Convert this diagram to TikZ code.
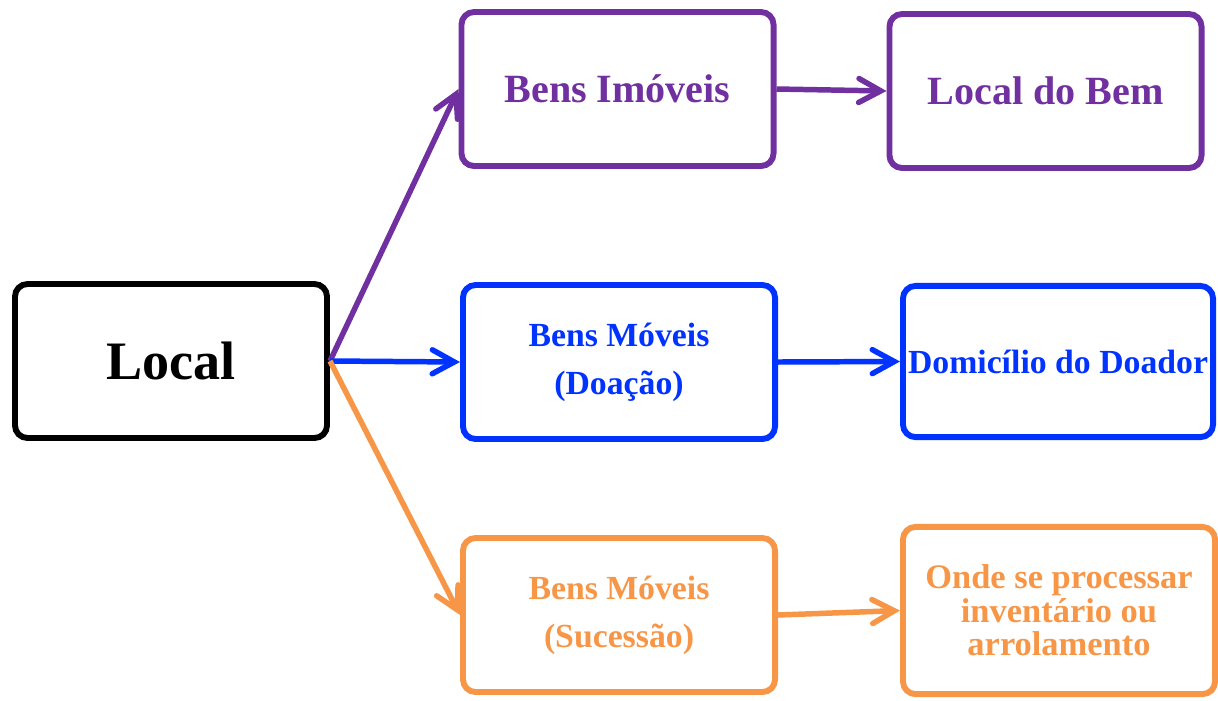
\documentclass[tikz,border=0pt]{standalone}
\usepackage{fontspec}
\setmainfont{Liberation Serif}
\usetikzlibrary{arrows.meta}
\usetikzlibrary{shadows}
\usepackage{xcolor}
\definecolor{roxo}{HTML}{7030A0}
\definecolor{azul}{HTML}{0033FF}
\definecolor{laranja}{HTML}{F79646}

\tikzset{
	caixa/.style={draw=#1, text=#1, line width=4.2pt, rounded corners=9pt, fill=white, align=center,
		minimum width=7.8cm, minimum height=3.85cm, inner sep=2pt,
		drop shadow={opacity=0.2, shadow xshift=0.06cm, shadow yshift=-0.06cm}},
	seta/.style={draw=#1, line width=3.9pt, -{Straight Barb[length=0.55cm,width=0.6cm,line cap=round]}}
}

\begin{document}
\begin{tikzpicture}[x=0.025cm, y=-0.025cm]
	\useasboundingbox (0,0) rectangle (1218,700);
	\node [caixa=black, font=\fontsize{38.5}{44}\selectfont\bfseries] (local) at (171,361) {Local};
	\node [caixa=roxo, font=\fontsize{28.5}{30}\selectfont\bfseries] (imoveis) at (617.5,89) {Bens Imóveis};
	\node [caixa=roxo, font=\fontsize{28.5}{30}\selectfont\bfseries] (bem) at (1045.5,91) {Local do Bem};
	\node [caixa=azul, font=\fontsize{24}{34}\selectfont\bfseries] (doacao) at (619,362) {Bens Móveis\\(Doação)};
	\node [caixa=azul, minimum width=7.75cm, minimum height=3.78cm, inner sep=0pt, font=\fontsize{24}{34}\selectfont\bfseries] (doador) at (1058,361.5) {Domicílio do Doador};
	\node [caixa=laranja, font=\fontsize{24}{34}\selectfont\bfseries] (sucessao) at (619,615) {Bens Móveis\\(Sucessão)};
	\node [caixa=laranja, minimum height=4.18cm, font=\fontsize{24.5}{23.8}\selectfont\bfseries] (onde) at (1059,610.5) {Onde se processar\\inventário ou\\arrolamento};
	% ligacoes
	\draw [seta=roxo] (local.east) -- (imoveis.west);
	\draw [seta=azul] (local.east) -- (doacao.west);
	\draw [seta=laranja] (local.east) -- (sucessao.west);
	\draw [seta=roxo] (imoveis.east) -- (bem.west);
	\draw [seta=azul] (doacao.east) -- (doador.west);
	\draw [seta=laranja] (sucessao.east) -- (onde.west);
\end{tikzpicture}
\end{document}
